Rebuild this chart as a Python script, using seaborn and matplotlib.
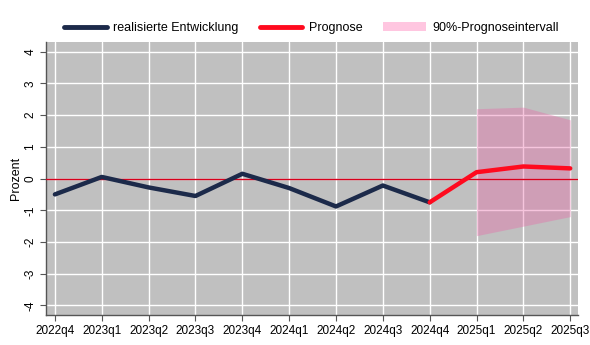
import matplotlib
matplotlib.use("Agg")
import matplotlib.pyplot as plt
import seaborn as sns
import pandas as pd
import numpy as np
from matplotlib.lines import Line2D
from matplotlib.patches import Patch

quarters = ["2022q4", "2023q1", "2023q2", "2023q3", "2023q4", "2024q1",
            "2024q2", "2024q3", "2024q4", "2025q1", "2025q2", "2025q3"]
actual_q = quarters[:9]
actual_v = [-0.5, 0.05, -0.28, -0.55, 0.15, -0.3, -0.88, -0.22, -0.75]
fc_q = ["2024q4", "2025q1", "2025q2", "2025q3"]
fc_v = [-0.75, 0.2, 0.38, 0.32]
int_q = ["2025q1", "2025q2", "2025q3"]
int_lo = [-1.8, -1.5, -1.2]
int_hi = [2.2, 2.25, 1.85]

sns.set_theme(style="white")
plt.rcParams['font.family'] = ['Liberation Sans', 'DejaVu Sans']
plt.rcParams['text.color'] = 'black'
plt.rcParams['axes.labelcolor'] = 'black'
plt.rcParams['xtick.color'] = 'black'
plt.rcParams['ytick.color'] = 'black'

pos = {q: i for i, q in enumerate(quarters)}
df_a = pd.DataFrame({"x": [pos[q] for q in actual_q], "y": actual_v})
df_f = pd.DataFrame({"x": [pos[q] for q in fc_q], "y": fc_v})

fig = plt.figure(figsize=(5.9, 3.45), dpi=100)
ax = fig.add_axes([0.078, 0.087, 0.902, 0.791])
ax.set_facecolor("#c0c0c0")

ax.set_xlim(-0.19, 11.17)
ax.set_ylim(-4.3, 4.3)
ax.set_xticks(range(len(quarters)))
ax.set_xticklabels(quarters)
ax.set_yticks(range(-4, 5))
ax.set_yticklabels([str(v) for v in range(-4, 5)], rotation=90, va="center")
ax.grid(True, color="white", linewidth=1.0)
ax.set_axisbelow(True)

ax.fill_between([pos[q] for q in int_q], int_lo, int_hi,
                color="#e868a8", alpha=0.38, linewidth=0, zorder=2)
ax.axhline(0, color="#d8001c", linewidth=1.0, zorder=3)
sns.lineplot(data=df_a, x="x", y="y", ax=ax, color="#1c2a4a", linewidth=3.2, zorder=4)
sns.lineplot(data=df_f, x="x", y="y", ax=ax, color="#ff0a1e", linewidth=3.2, zorder=4)

for s in ["top", "right"]:
    ax.spines[s].set_visible(False)
for s in ["left", "bottom"]:
    ax.spines[s].set_color("#555555")
    ax.spines[s].set_linewidth(1.0)
ax.tick_params(axis="both", which="both", direction="out", length=4, width=0.8,
               color="#555555", labelsize=8.5, pad=3, bottom=True, left=True,
               labelcolor="black")
ax.set_xlabel("")
ax.set_ylabel("Prozent", fontsize=9, labelpad=2)

handles = [Line2D([0], [0], color="#1c2a4a", linewidth=3.5),
           Line2D([0], [0], color="#ff0a1e", linewidth=3.5),
           Patch(facecolor="#ffc6e0", edgecolor="none")]
labels = ["realisierte Entwicklung", "Prognose", "90%-Prognoseintervall"]
fig.legend(handles, labels, loc="center", bbox_to_anchor=(0.528, 0.919), ncol=3,
           frameon=False, fontsize=9, handlelength=3.4, columnspacing=1.7,
           handletextpad=0.5)

fig.savefig("out.png", dpi=100, facecolor="white")
